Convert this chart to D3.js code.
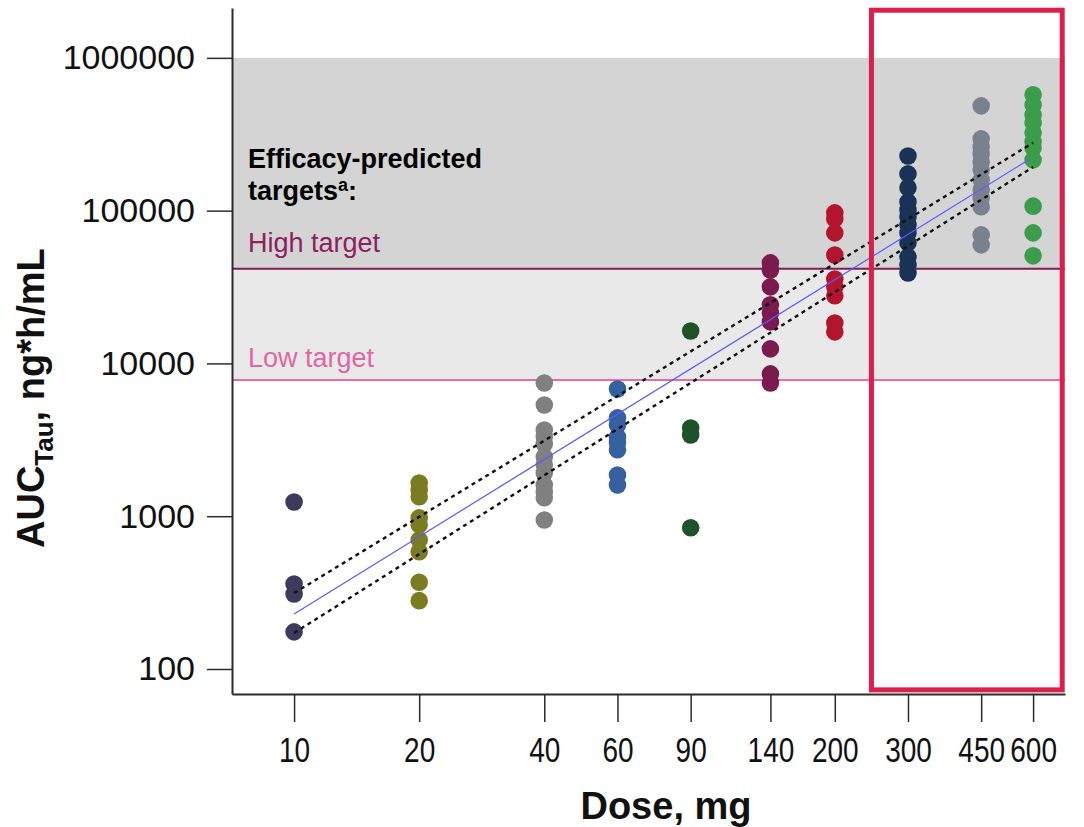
<!DOCTYPE html>
<html>
<head>
<meta charset="utf-8">
<script src="https://cdn.jsdelivr.net/npm/d3@7"></script>
<style>
    body { margin: 0; background: #fff; }
    svg { display: block; font-family: "Liberation Sans", Arial, sans-serif; }
    .axis path, .axis line { stroke: #2b2b2b; }
    .axis text { fill: #111; }
</style>
</head>
<body>
<svg id="chart" width="1084" height="827"></svg>
<script>
/*jslint browser: true*/
/*globals d3*/

// dose groups (mg) and their colours
var doses = [10, 20, 40, 60, 90, 140, 200, 300, 450, 600];
var doseColors = ["#3d3a5e", "#7b7b22", "#808080", "#3561a0", "#1f5229",
    "#7b1a4e", "#b3152c", "#1b3257", "#7b808e", "#3b9c4a"];

// individual AUCtau values, ng*h/mL
var auc10 = [1240, 360, 310, 175];
var auc20 = [1650, 1485, 1340, 975, 880, 700, 585, 370, 280];
var auc40 = [7450, 5350, 3670, 3300, 2970, 2440, 2170, 1920, 1600, 1440, 1320, 945];
var auc60 = [6800, 4400, 3950, 3300, 3020, 2720, 1860, 1600];
var auc90 = [16300, 3780, 3400, 840];
var auc140 = [45500, 40900, 31700, 24200, 21400, 18700, 12450, 8540, 7450];
var auc200 = [96700, 88300, 71500, 51300, 35700, 31700, 27700, 18400, 16100];
var auc300 = [228000, 174000, 141000, 114000, 101000, 91000, 80700, 71500, 61500, 49800, 44100, 39100];
var auc450 = [485000, 295000, 261000, 235000, 209000, 185000, 159000, 137000, 121000, 106000, 69400, 59700];
var auc600 = [573000, 492000, 423000, 375000, 323000, 282000, 258000, 215000, 107000, 71500, 50600];
var aucByDose = [auc10, auc20, auc40, auc60, auc90, auc140, auc200, auc300, auc450, auc600];

// power-model fit and its confidence band (dose, AUC)
var fitLine = [[10, 229], [590, 218000]];
var upperBand = [[10, 314], [600, 278000]];
var lowerBand = [[10, 172], [600, 193000]];

// efficacy-predicted targets
var highTarget = 41600;
var lowTarget = 7800;
var bandTop = 1000000;

// highlighted doses box
var boxDose = [245, 705];
var boxAuc = [73, 2050000];

var yTicks = [100, 1000, 10000, 100000, 1000000];

function draw() {
    "use strict";

    var svg = d3.select("#chart"),
        left = 232,
        right = 1065,
        top = 8,
        bottom = 694,
        x,
        y,
        line,
        points,
        xAxis,
        yAxis,
        title,
        ylab;

    x = d3.scaleLog().domain([7.09, 716]).range([left, right]);
    y = d3.scaleLog().domain([68.6, 2120000]).range([bottom, top]);

    // shaded target bands
    svg.append("rect")
        .attr("x", left)
        .attr("y", y(bandTop))
        .attr("width", right - left)
        .attr("height", y(highTarget) - y(bandTop))
        .attr("fill", "#d4d4d4");
    svg.append("rect")
        .attr("x", left)
        .attr("y", y(highTarget))
        .attr("width", right - left)
        .attr("height", y(lowTarget) - y(highTarget))
        .attr("fill", "#e9e9e9");

    svg.append("line")
        .attr("x1", left).attr("x2", right)
        .attr("y1", y(highTarget)).attr("y2", y(highTarget))
        .attr("stroke", "#7b1f52")
        .attr("stroke-width", 2);
    svg.append("line")
        .attr("x1", left).attr("x2", right)
        .attr("y1", y(lowTarget)).attr("y2", y(lowTarget))
        .attr("stroke", "#e86baa")
        .attr("stroke-width", 2);

    title = svg.append("text")
        .attr("x", 248)
        .attr("y", 168)
        .attr("font-size", 27)
        .attr("font-weight", "bold")
        .attr("fill", "#000");
    title.append("tspan").text("Efficacy-predicted");
    title.append("tspan").attr("x", 248).attr("dy", 32).text("targets");
    title.append("tspan").attr("font-size", 18).attr("dy", -9).text("a");
    title.append("tspan").attr("dy", 9).text(":");

    svg.append("text")
        .attr("x", 248)
        .attr("y", 252)
        .attr("font-size", 27)
        .attr("fill", "#8b2160")
        .text("High target");
    svg.append("text")
        .attr("x", 248)
        .attr("y", 367)
        .attr("font-size", 27)
        .attr("fill", "#e066a6")
        .text("Low target");

    // individual points
    points = [];
    doses.forEach(function (d, i) {
        aucByDose[i].forEach(function (v) {
            points.push({dose: d, auc: v, color: doseColors[i]});
        });
    });
    svg.append("g")
        .selectAll("circle")
        .data(points)
        .enter().append("circle")
        .attr("cx", function (d) { return x(d.dose); })
        .attr("cy", function (d) { return y(d.auc); })
        .attr("r", 8.8)
        .attr("fill", function (d) { return d.color; });

    line = d3.line()
        .x(function (d) { return x(d[0]); })
        .y(function (d) { return y(d[1]); });

    svg.append("path")
        .attr("d", line(fitLine))
        .attr("fill", "none")
        .attr("stroke", "#5a5aff")
        .attr("stroke-width", 1.2);
    [upperBand, lowerBand].forEach(function (b) {
        svg.append("path")
            .attr("d", line(b))
            .attr("fill", "none")
            .attr("stroke", "#111")
            .attr("stroke-width", 2.4)
            .attr("stroke-dasharray", "4,4");
    });

    // axes
    xAxis = d3.axisBottom(x)
        .tickValues(doses)
        .tickFormat(d3.format("d"))
        .tickSize(28)
        .tickSizeOuter(0)
        .tickPadding(15);
    svg.append("g")
        .attr("class", "axis")
        .attr("transform", "translate(0," + bottom + ")")
        .call(xAxis)
        .call(function (g) {
            g.select(".domain").attr("stroke-width", 2);
            g.selectAll(".tick line").attr("stroke-width", 1.5);
            // the source labels are set in a narrow face
            g.selectAll("text")
                .attr("font-size", 35)
                .attr("transform", "scale(0.8,1)");
        });

    yAxis = d3.axisLeft(y)
        .tickValues(yTicks)
        .tickFormat(d3.format("d"))
        .tickSize(25)
        .tickSizeOuter(0)
        .tickPadding(12);
    svg.append("g")
        .attr("class", "axis")
        .attr("transform", "translate(" + left + ",0)")
        .call(yAxis)
        .call(function (g) {
            g.select(".domain").attr("stroke-width", 2);
            g.selectAll(".tick line").attr("stroke-width", 1.5);
            g.selectAll("text").attr("font-size", 34);
        });

    svg.append("text")
        .attr("x", 666)
        .attr("y", 819)
        .attr("text-anchor", "middle")
        .attr("font-size", 38)
        .attr("font-weight", "bold")
        .attr("fill", "#111")
        .text("Dose, mg");

    ylab = svg.append("text")
        .attr("transform", "translate(44,548) rotate(-90)")
        .attr("font-size", 38)
        .attr("font-weight", "bold")
        .attr("fill", "#111");
    ylab.append("tspan").text("AUC");
    ylab.append("tspan").attr("font-size", 26).attr("dy", 9).text("Tau");
    ylab.append("tspan").attr("dy", -9).text(", ng*h/mL");

    // highlighted high-dose box
    svg.append("rect")
        .attr("x", x(boxDose[0]))
        .attr("y", y(boxAuc[1]))
        .attr("width", x(boxDose[1]) - x(boxDose[0]))
        .attr("height", y(boxAuc[0]) - y(boxAuc[1]))
        .attr("fill", "none")
        .attr("stroke", "#dc1e4c")
        .attr("stroke-width", 5);
}

draw();
</script>
</body>
</html>
